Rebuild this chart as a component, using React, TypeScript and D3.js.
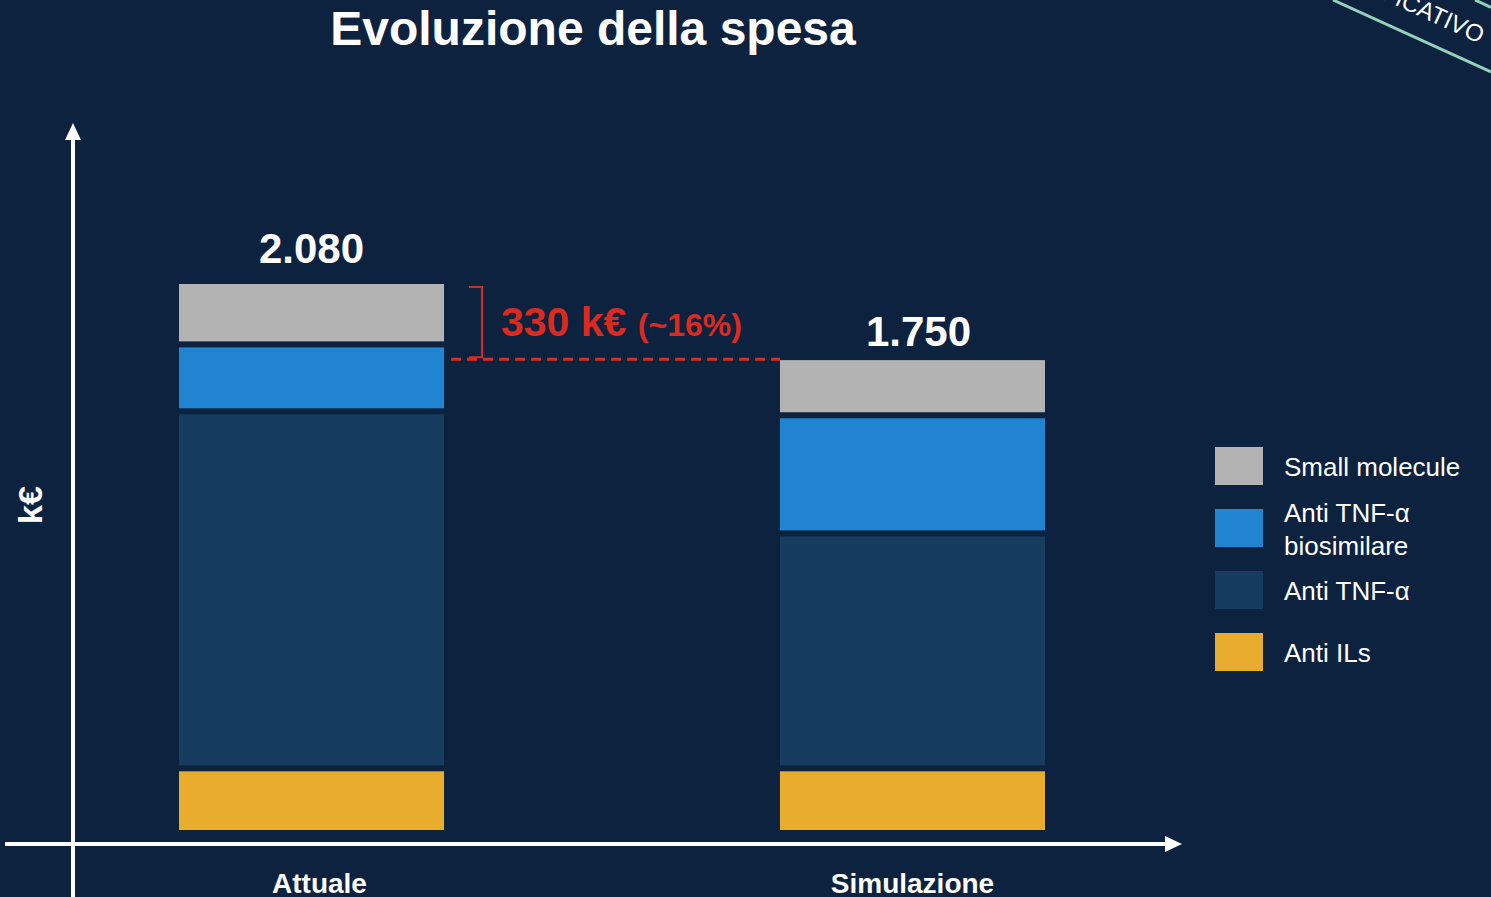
import * as React from "react"
import * as d3 from "d3"

const categories = ["Attuale", "Simulazione"]
const seriesNames = ["Anti ILs", "Anti TNF-α", "Anti TNF-α biosimilare", "Small molecule"]
const antiILs = [235, 235]
const antiTNF = [1360, 895]
const antiTNFBio = [255, 450]
const smallMolecule = [230, 210]
const totalLabels = ["2.080", "1.750"]
const legendLines = [["Small molecule"], ["Anti TNF-α", "biosimilare"], ["Anti TNF-α"], ["Anti ILs"]]
const colors = ["#e8ad2d", "#163d5f", "#2184d1", "#b3b3b3"]

const W = 1491
const H = 897
const BG = "#0c223f"
const RED = "#db2a1f"
const FONT = "'Liberation Sans', Arial, sans-serif"

export default function App(): React.JSX.Element {
  React.useEffect(() => {
    document.body.style.margin = "0"
    document.body.style.background = BG
    document.body.style.overflow = "hidden"
  }, [])

  const x = d3.scaleBand().domain(categories).range([179, 1045]).paddingInner(0.559).paddingOuter(0)
  const y = d3.scaleLinear().domain([0, 2080]).range([830, 284])

  const rows = categories.map((c, i) => ({
    cat: c,
    "Anti ILs": antiILs[i],
    "Anti TNF-α": antiTNF[i],
    "Anti TNF-α biosimilare": antiTNFBio[i],
    "Small molecule": smallMolecule[i],
  }))
  const stack = d3.stack<any>().keys(seriesNames)(rows)
  const gap = 3
  const bw = x.bandwidth()
  const tops = rows.map((_r, i) => stack[stack.length - 1][i][1])

  const x0 = x(categories[0]) as number
  const x1 = x(categories[1]) as number
  const yA = y(tops[0])
  const yS = y(tops[1])

  return (
    <svg width={W} height={H} style={{ position: "absolute", left: 0, top: 0, background: BG }} fontFamily={FONT}>
      <rect width={W} height={H} fill={BG} />

      {/* watermark band */}
      <line x1={1333} y1={0} x2={1491} y2={72} stroke="#93d1bb" strokeWidth={3} />
      <line x1={1475} y1={0} x2={1491} y2={7.3} stroke="#93d1bb" strokeWidth={3} />
      <text transform="translate(1483,36) rotate(24.5)" textAnchor="end" dy="0.35em" fill="#fff" fontSize={24}>
        ESEMPLIFICATIVO
      </text>

      <text x={593} y={45} textAnchor="middle" fill="#fff" fontSize={48} fontWeight="bold">
        Evoluzione della spesa
      </text>

      {/* bars */}
      {stack.map((s, si) => (
        <g key={s.key} fill={colors[si]}>
          {s.map((d, i) => {
            const top = y(d[1]) + (si === stack.length - 1 ? 0 : gap)
            const bot = y(d[0]) - (si === 0 ? 0 : gap)
            return <rect key={i} x={x(categories[i])} y={top} width={bw} height={bot - top} />
          })}
        </g>
      ))}

      {totalLabels.map((t, i) => (
        <text key={t} x={(x(categories[i]) as number) + bw / 2 + i * 6} y={y(tops[i]) - (i === 0 ? 21 : 14)} textAnchor="middle" fill="#fff" fontSize={42} fontWeight="bold">
          {t}
        </text>
      ))}

      {/* difference annotation */}
      <line x1={x0 + bw + 7} x2={x1} y1={yS - 1} y2={yS - 1} stroke={RED} strokeWidth={3} strokeDasharray="10,6" />
      <path d={`M469,${yA + 3}H482V${yS - 3}H469`} fill="none" stroke={RED} strokeWidth={2} />
      <text x={501} y={336} fill={RED} fontWeight="bold">
        <tspan fontSize={41}>330 k€ </tspan>
        <tspan fontSize={32}>(~16%)</tspan>
      </text>

      {/* axes */}
      <line x1={73} x2={73} y1={897} y2={138} stroke="#fff" strokeWidth={4} />
      <path d="M73,123L65,140L81,140Z" fill="#fff" />
      <line x1={5} x2={1168} y1={844} y2={844} stroke="#fff" strokeWidth={4} />
      <path d="M1182,844L1165,836L1165,852Z" fill="#fff" />
      <text transform="translate(42,505) rotate(-90)" textAnchor="middle" fill="#fff" fontSize={34} fontWeight="bold">
        k€
      </text>

      {categories.map((c, i) => (
        <text key={c} x={(x(c) as number) + bw / 2 + (i === 0 ? 8 : 0)} y={893} textAnchor="middle" fill="#fff" fontSize={28} fontWeight="bold">
          {c}
        </text>
      ))}

      {/* legend */}
      {legendLines.map((lines, i) => {
        const top = 447 + i * 62
        const ci = colors.length - 1 - i
        return (
          <g key={i}>
            <rect x={1215} y={top} width={48} height={38} fill={colors[ci]} />
            {lines.map((l, li) => (
              <text key={l} x={1284} y={lines.length === 1 ? top + 29 : top + 13 + li * 33} fill="#fff" fontSize={26}>
                {l}
              </text>
            ))}
          </g>
        )
      })}
    </svg>
  )
}
